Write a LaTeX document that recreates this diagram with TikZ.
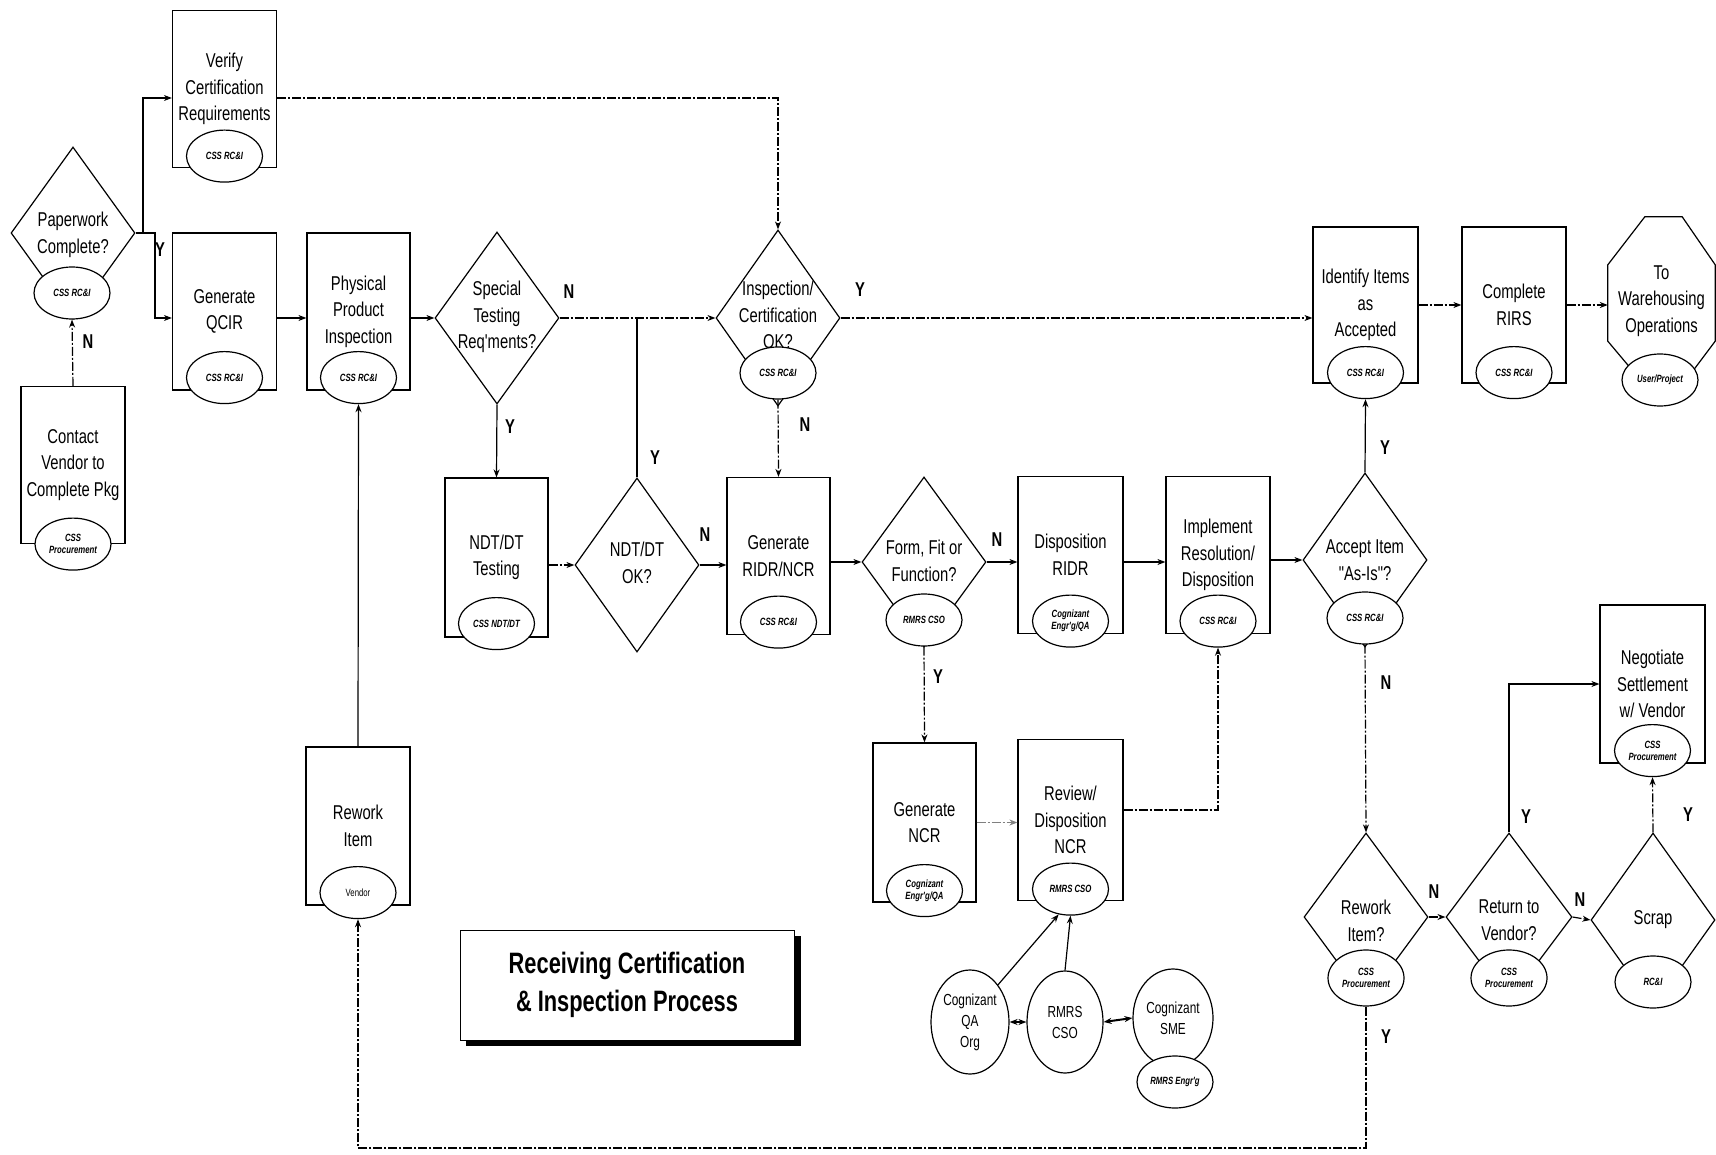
\documentclass[tikz,border=0pt]{standalone}
\usepackage{fontspec}
\setmainfont{Liberation Sans}[FakeStretch=0.74,Ligatures=TeXOff]
\usetikzlibrary{shapes.geometric,arrows.meta,calc}
\begin{document}
\begin{tikzpicture}[x=1pt,y=-1pt]
\tikzset{
 ln/.style={line width=1.2pt},
 arr/.style={ln,-{Stealth[length=8pt,width=6pt]}},
 dd/.style={dash pattern=on 9pt off 2pt on 2pt off 2pt},
 proc/.style={draw,line width=1.2pt,minimum width=104pt,minimum height=157pt,inner sep=0pt,align=center,font=\fontsize{20}{26.5}\selectfont},
 own/.style={ellipse,draw,fill=white,line width=1.2pt,minimum width=76pt,minimum height=52pt,inner sep=0pt,align=center,font=\fontsize{10.5}{12}\selectfont\bfseries\itshape},
 dia/.style={diamond,draw,line width=1.2pt,minimum width=124pt,minimum height=172pt,inner sep=0pt},
 dtx/.style={align=center,font=\fontsize{20}{26.5}\selectfont},
 yn/.style={font=\fontsize{20}{20}\selectfont\bfseries},
 big/.style={ellipse,draw,fill=white,line width=1.2pt,inner sep=0pt,align=center,font=\fontsize{16}{21}\selectfont},
}
\useasboundingbox[fill=white] (0,0) rectangle (1716,1155);

% ---------- process boxes ----------
\node[proc] (verify) at (224.5,89) {Verify\\Certification\\Requirements};
\node[proc] (qcir) at (224.5,311.5) {Generate\\QCIR};
\node[proc,minimum width=103pt] (phys) at (358.5,311.5) {Physical\\Product\\Inspection};
\node[proc] (contact) at (73,465) {Contact\\Vendor to\\Complete Pkg};
\node[proc,minimum width=103pt,minimum height=159pt] (ndt) at (496.5,557.5) {NDT/DT\\Testing};
\node[proc,minimum width=103pt] (ridr) at (778.5,556) {Generate\\RIDR/NCR};
\node[proc,minimum width=105pt] (disp) at (1070.5,555) {Disposition\\RIDR};
\node[proc] (impl) at (1218,555) {Implement\\Resolution/\\Disposition};
\node[proc,minimum width=103pt,minimum height=159pt] (gencr) at (924.5,822.5) {Generate\\NCR};
\node[proc,minimum width=105pt,minimum height=161pt] (review) at (1070.5,820) {Review/\\Disposition\\NCR};
\node[proc,minimum width=105pt,minimum height=156pt] (ident) at (1365.5,305) {Identify Items\\as\\Accepted};
\node[proc,minimum width=104pt,minimum height=156pt] (rirs) at (1514,305) {Complete\\RIRS};
\node[proc,minimum width=105pt,minimum height=158pt] (neg) at (1652.5,684) {Negotiate\\Settlement\\w/ Vendor};
\node[proc,minimum width=104pt,minimum height=158pt] (rework) at (358,826) {Rework\\Item};

% warehousing octagon
\node[minimum width=107pt,minimum height=168pt,inner sep=0pt,align=center,font=\fontsize{20}{26.5}\selectfont] (wh) at (1661.5,301) {To\\Warehousing\\Operations};
\draw[line width=1.2pt] ($(wh.north west)+(37,0)$) -- ($(wh.north east)+(-33,0)$) -- ($(wh.north east)+(0,48)$) -- ($(wh.south east)+(0,-44)$) -- ($(wh.south east)+(-33,0)$) -- ($(wh.south west)+(37,0)$) -- ($(wh.south west)+(0,-44)$) -- ($(wh.north west)+(0,48)$) -- cycle;

% ---------- diamonds ----------
\node[dia] (pw) at (73,233) {};
\node[dtx] at (73,235) {Paperwork\\Complete?};
\node[dia] (special) at (497,318) {};
\node[dtx] at (497,317) {Special\\Testing\\Req'ments?};
\node[dia,minimum height=176pt] (inspect) at (778,318) {};
\node[dtx] at (778,315) {Inspection/\\Certification\\OK?};
\node[dia,minimum height=174pt] (ndtok) at (637,565) {};
\node[dtx] at (637,563) {NDT/DT\\OK?};
\node[dia,minimum height=170pt] (fff) at (924,562) {};
\node[dtx] at (924,561) {Form, Fit or\\Function?};
\node[dia,minimum height=174pt] (accept) at (1365,560) {};
\node[dtx] at (1365,560) {Accept Item\\"As-Is"?};
\node[dia,minimum height=168pt] (rwq) at (1366,917) {};
\node[dtx] at (1366,921) {Rework\\Item?};
\node[dia,minimum width=126pt,minimum height=168pt] (ret) at (1509,917) {};
\node[dtx] at (1509,920) {Return to\\Vendor?};
\node[dia,minimum height=174pt] (scrap) at (1653,920) {};
\node[dtx] at (1653,920) {Scrap};

% ---------- owner ellipses ----------
\node[own] (verifyO) at ($(verify.south)+(0,-12)$) {CSS RC\&I};
\node[own] (qcirO) at ($(qcir.south)+(0,-13)$) {CSS RC\&I};
\node[own] (physO) at ($(phys.south)+(0,-13)$) {CSS RC\&I};
\node[own] (contactO) at (contact.south) {CSS\\Procurement};
\node[own] (ndtO) at ($(ndt.south)+(0,-14)$) {CSS NDT/DT};
\node[own] (ridrO) at ($(ridr.south)+(0,-13)$) {CSS RC\&I};
\node[own] (dispO) at ($(disp.south)+(0,-13)$) {Cognizant\\Engr'g/QA};
\node[own] (implO) at ($(impl.south)+(0,-13)$) {CSS RC\&I};
\node[own] (gencrO) at ($(gencr.south)+(0,-12)$) {Cognizant\\Engr'g/QA};
\node[own] (reviewO) at ($(review.south)+(0,-12)$) {RMRS CSO};
\node[own] (identO) at ($(ident.south)+(0,-11)$) {CSS RC\&I};
\node[own] (rirsO) at ($(rirs.south)+(0,-11)$) {CSS RC\&I};
\node[own] (negO) at ($(neg.south)+(0,-13)$) {CSS\\Procurement};
\node[own,font=\fontsize{10.5}{12}\selectfont] (reworkO) at ($(rework.south)+(0,-13)$) {Vendor};
\node[own] (whO) at (1660,380) {User/Project};
\node[own] (pwO) at (72,293) {CSS RC\&I};
\node[own] (inspectO) at (778,373) {CSS RC\&I};
\node[own] (fffO) at (924,620) {RMRS CSO};
\node[own] (acceptO) at (1365,618) {CSS RC\&I};
\node[own,minimum height=56pt] (rwqO) at (1366,978) {CSS\\Procurement};
\node[own,minimum height=56pt] (retO) at (1509,978) {CSS\\Procurement};
\node[own] (scrapO) at (1653,982) {RC\&I};

% ---------- review cluster ----------
\node[big,minimum width=78pt,minimum height=104pt] (qa) at (970,1022) {Cognizant\\QA\\Org};
\node[big,minimum width=76pt,minimum height=102pt] (rmrs) at (1065,1022) {RMRS\\CSO};
\node[big,minimum width=80pt,minimum height=98pt] (sme) at (1173,1018) {Cognizant\\SME};
\node[own] (engr) at (1175,1082) {RMRS Engr'g};

% ---------- title ----------
\fill[black] (466,936) rectangle (801,1046);
\node[draw,fill=white,line width=0.8pt,minimum width=334pt,minimum height=110pt,inner sep=0pt,align=center,font=\fontsize{29.5}{38}\selectfont\bfseries] (title) at (627,985) {Receiving Certification\\\& Inspection Process};

% ---------- connectors ----------
\coordinate (ytop) at (0,98);
\coordinate (ybot) at (0,1148);
\coordinate (j1) at (143,233);
\draw[ln] (pw.east) -- (j1);
\draw[arr] (j1) |- (verify.west |- ytop);
\draw[arr] (j1) -- (155,233) |- (qcir.west |- special.west);
\draw[arr] (qcir.east |- special.west) -- (phys.west |- special.west);
\draw[arr] (phys.east |- special.west) -- (special.west);
\draw[arr,dd] (special.east) -- (inspect.west);
\draw[ln] (ndtok.north) -- (ndtok.north |- special.east);
\draw[arr] (special.south) -- (ndt.north);
\draw[arr,dd] (ndt.east |- ndtok.west) -- (ndtok.west);
\draw[arr] (ndtok.east) -- (ndtok.east -| ridr.west);
\draw[arr,dd] (verify.east |- ytop) -| (inspect.north);
\draw[arr,dd] (inspectO.south) -- (ridr.north);
\draw[arr,dd] (inspect.east) -- (inspect.east -| ident.west);
\draw[arr] (ridr.east |- fff.west) -- (fff.west);
\draw[arr] (fff.east) -- (fff.east -| disp.west);
\draw[arr] (disp.east |- fff.east) -- (impl.west |- fff.east);
\draw[arr] (impl.east |- accept.west) -- (accept.west);
\draw[arr,dd] (fffO.south) -- (gencr.north);
\draw[arr,dd,gray] (gencr.east) -- (gencr.east -| review.west);
\draw[arr,dd] ($(review.east)+(0,-10)$) -| (implO.south);
\draw[arr] (accept.north) -- (identO.south);
\draw[arr,dd] (ident.east) -- (ident.east -| rirs.west);
\draw[arr,dd] (rirs.east) -- (wh.west |- rirs.east);
\draw[arr,dd] (acceptO.south) -- (rwq.north);
\draw[arr,dd] (rwq.east) -- (ret.west);
\draw[arr,dd] (ret.east) -- (scrap.west);
\draw[arr] (ret.north) |- (neg.west);
\draw[arr,dd] (scrap.north) -- (negO.south);
\draw[arr,dd] (rwqO.south) -- (rwqO.south |- ybot) -- (reworkO.south |- ybot) -- (reworkO.south);
\draw[arr] (rework.north) -- (physO.south);
\draw[arr,dd] (contact.north) -- (pwO.south);
\draw[arr] (qa.north east) -- (reviewO.245);
\draw[arr] (rmrs.north) -- (reviewO.south);
\draw[line width=2pt,{Stealth[length=8pt,width=6pt]}-{Stealth[length=8pt,width=6pt]}] (qa.east) -- (rmrs.west);
\draw[line width=2pt,{Stealth[length=8pt,width=6pt]}-{Stealth[length=8pt,width=6pt]}] (rmrs.east) -- (sme.west);

% ---------- Y / N labels ----------
\node[yn] at (160,250) {Y};
\node[yn] at (88,342) {N};
\node[yn] at (569,292) {N};
\node[yn] at (510,427) {Y};
\node[yn] at (655,458) {Y};
\node[yn] at (705,535) {N};
\node[yn] at (860,290) {Y};
\node[yn] at (805,425) {N};
\node[yn] at (997,540) {N};
\node[yn] at (938,677) {Y};
\node[yn] at (1385,448) {Y};
\node[yn] at (1386,683) {N};
\node[yn] at (1434,892) {N};
\node[yn] at (1580,900) {N};
\node[yn] at (1526,817) {Y};
\node[yn] at (1688,815) {Y};
\node[yn] at (1386,1037) {Y};
\end{tikzpicture}
\end{document}
